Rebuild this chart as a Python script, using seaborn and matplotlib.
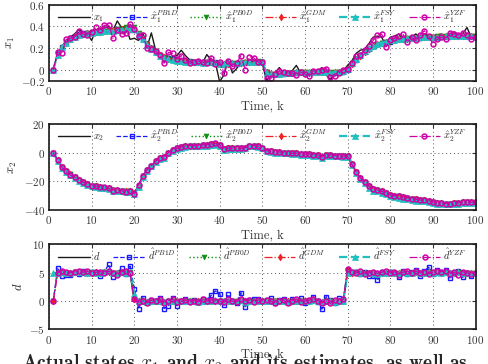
import numpy as np
import pandas as pd
import matplotlib
matplotlib.use("Agg")
import matplotlib.pyplot as plt
import seaborn as sns

k = list(range(1, 101))

# panel 1: x1 and its estimates
x1 = [0, 0.15, 0.21, 0.27, 0.30, 0.33, 0.37, 0.34, 0.33, 0.27,
      0.37, 0.38, 0.39, 0.40, 0.36, 0.45, 0.39, 0.40, 0.28, 0.29,
      0.27, 0.34, 0.21, 0.34, 0.18, 0.12, 0.13, 0.10, 0.12, 0.13,
      0.18, 0.13, 0.09, 0.07, 0.09, 0.06, 0.14, 0.09, 0.07, -0.11,
      -0.05, 0.09, -0.03, 0.01, 0.08, 0.07, 0.07, 0.06, 0.07, 0.06,
      -0.10, -0.04, -0.03, 0.02, -0.03, -0.03, -0.01, 0.04, -0.03, -0.05,
      -0.03, -0.02, -0.01, 0.02, -0.05, -0.09, -0.04, -0.02, -0.01, 0.04,
      0.08, 0.15, 0.18, 0.19, 0.24, 0.30, 0.31, 0.30, 0.22, 0.30,
      0.31, 0.33, 0.28, 0.27, 0.30, 0.33, 0.30, 0.33, 0.32, 0.27,
      0.32, 0.33, 0.30, 0.33, 0.35, 0.28, 0.33, 0.39, 0.30, 0.29]
x1_pb1d = [0, 0.15, 0.21, 0.26, 0.29, 0.31, 0.33, 0.34, 0.34, 0.34,
           0.35, 0.36, 0.36, 0.37, 0.37, 0.38, 0.38, 0.38, 0.37, 0.37,
           0.32, 0.28, 0.23, 0.20, 0.16, 0.14, 0.12, 0.11, 0.10, 0.09,
           0.09, 0.08, 0.08, 0.07, 0.07, 0.07, 0.07, 0.07, 0.07, 0.05,
           0.04, 0.05, 0.05, 0.05, 0.06, 0.06, 0.07, 0.07, 0.07, 0.07,
           -0.02, -0.04, -0.04, -0.04, -0.04, -0.03, -0.03, -0.03, -0.02, -0.03,
           -0.03, -0.02, -0.02, -0.02, -0.02, -0.03, -0.03, -0.02, -0.02, 0.00,
           0.05, 0.09, 0.13, 0.16, 0.19, 0.22, 0.24, 0.25, 0.26, 0.26,
           0.27, 0.28, 0.28, 0.28, 0.29, 0.29, 0.29, 0.30, 0.30, 0.30,
           0.30, 0.30, 0.30, 0.31, 0.31, 0.31, 0.31, 0.32, 0.31, 0.31]
x1_pb0d = [0, 0.14, 0.20, 0.25, 0.28, 0.30, 0.32, 0.33, 0.34, 0.35,
           0.35, 0.36, 0.36, 0.37, 0.37, 0.38, 0.38, 0.39, 0.39, 0.39,
           0.34, 0.29, 0.24, 0.20, 0.17, 0.14, 0.12, 0.10, 0.09, 0.08,
           0.08, 0.07, 0.07, 0.07, 0.06, 0.06, 0.07, 0.07, 0.06, 0.05,
           0.05, 0.06, 0.06, 0.06, 0.06, 0.07, 0.07, 0.08, 0.08, 0.07,
           -0.02, -0.04, -0.05, -0.04, -0.04, -0.03, -0.03, -0.03, -0.02, -0.02,
           -0.02, -0.02, -0.02, -0.01, -0.02, -0.02, -0.02, -0.02, -0.01, 0.01,
           0.06, 0.10, 0.13, 0.17, 0.19, 0.22, 0.23, 0.25, 0.26, 0.26,
           0.27, 0.28, 0.28, 0.29, 0.29, 0.29, 0.29, 0.30, 0.30, 0.30,
           0.31, 0.31, 0.31, 0.31, 0.31, 0.31, 0.31, 0.31, 0.31, 0.31]
x1_gdm = [0, 0.14, 0.21, 0.25, 0.28, 0.31, 0.32, 0.33, 0.34, 0.34,
          0.35, 0.35, 0.36, 0.37, 0.37, 0.37, 0.38, 0.38, 0.38, 0.38,
          0.33, 0.28, 0.24, 0.20, 0.16, 0.14, 0.12, 0.10, 0.09, 0.09,
          0.08, 0.08, 0.07, 0.07, 0.07, 0.06, 0.07, 0.07, 0.06, 0.05,
          0.05, 0.05, 0.06, 0.06, 0.06, 0.07, 0.07, 0.07, 0.07, 0.07,
          -0.02, -0.04, -0.04, -0.04, -0.03, -0.03, -0.03, -0.02, -0.02, -0.02,
          -0.03, -0.02, -0.02, -0.02, -0.02, -0.03, -0.02, -0.02, -0.01, 0.01,
          0.05, 0.10, 0.13, 0.16, 0.19, 0.22, 0.24, 0.25, 0.26, 0.27,
          0.27, 0.28, 0.28, 0.28, 0.29, 0.29, 0.30, 0.30, 0.30, 0.30,
          0.30, 0.31, 0.31, 0.31, 0.31, 0.31, 0.31, 0.31, 0.31, 0.30]
x1_fsy = [0, 0.14, 0.21, 0.25, 0.28, 0.30, 0.32, 0.33, 0.34, 0.34,
          0.35, 0.35, 0.36, 0.36, 0.36, 0.37, 0.37, 0.38, 0.38, 0.38,
          0.33, 0.28, 0.23, 0.19, 0.16, 0.13, 0.11, 0.10, 0.09, 0.08,
          0.08, 0.07, 0.07, 0.07, 0.07, 0.06, 0.07, 0.07, 0.06, 0.05,
          0.05, 0.06, 0.06, 0.06, 0.07, 0.07, 0.07, 0.07, 0.07, 0.07,
          -0.03, -0.04, -0.04, -0.04, -0.03, -0.03, -0.03, -0.02, -0.02, -0.02,
          -0.02, -0.02, -0.02, -0.02, -0.02, -0.03, -0.02, -0.02, -0.01, 0.01,
          0.06, 0.10, 0.14, 0.17, 0.20, 0.22, 0.24, 0.25, 0.26, 0.27,
          0.27, 0.28, 0.28, 0.29, 0.29, 0.29, 0.30, 0.30, 0.30, 0.30,
          0.30, 0.31, 0.31, 0.31, 0.31, 0.31, 0.31, 0.31, 0.31, 0.30]
x1_yzf = [0, 0.16, 0.15, 0.28, 0.29, 0.30, 0.36, 0.33, 0.32, 0.35,
          0.39, 0.37, 0.41, 0.41, 0.29, 0.37, 0.33, 0.34, 0.42, 0.38,
          0.31, 0.32, 0.20, 0.19, 0.17, 0.14, 0.06, 0.16, 0.15, 0.10,
          0.13, 0.09, 0.06, 0.07, 0.08, 0.07, 0.06, 0.11, 0.05, 0.07,
          -0.03, 0.08, 0.03, 0.06, 0.13, 0.00, 0.12, 0.11, 0.07, 0.07,
          -0.08, -0.08, -0.04, -0.01, -0.02, -0.03, -0.03, -0.05, -0.02, -0.04,
          -0.06, -0.01, -0.01, 0.00, 0.01, -0.07, -0.06, -0.03, 0.00, 0.01,
          0.06, 0.13, 0.14, 0.18, 0.22, 0.27, 0.32, 0.33, 0.21, 0.27,
          0.29, 0.31, 0.33, 0.26, 0.30, 0.27, 0.32, 0.36, 0.31, 0.24,
          0.28, 0.30, 0.28, 0.34, 0.33, 0.32, 0.34, 0.32, 0.28, 0.30]

# panel 2: x2 and its estimates
x2 = [0, -5, -10, -13, -15, -17, -19, -20.5, -22, -23,
      -23.5, -24, -24.5, -25, -26, -26, -26.5, -27, -27, -28,
      -23, -16, -12, -9, -6, -4, -3, 0, 2, 3,
      4, 4.5, 5, 5, 5, 5.5, 5.5, 6, 6, 5.5,
      2.5, 3, 3, 3, 3, 3.5, 5, 5, 4.5, 3.5,
      1.5, 1, 0.5, 0.5, 0, 0, -0.5, -0.5, -1, -1,
      -1, -1.5, -1.5, -3, -1.5, -1.5, -2, -2, -2.5, -2.5,
      -8, -13.5, -17.7, -20.5, -23.5, -25.5, -26, -27, -28, -29.5,
      -30, -30.5, -31, -31.5, -32, -32.5, -33, -33, -33.5, -34.5,
      -35, -35, -35.5, -35.5, -35, -35, -34.5, -34.5, -34.5, -34.5]
x2_pb1d = [0, -5, -10, -13, -15, -17, -19, -20.5, -22, -23,
           -23.5, -24, -24.5, -25, -26, -26, -26.5, -27, -27, -28,
           -23, -16, -12, -9, -6, -4, -3, 0, 2, 3,
           4, 4.5, 5, 5, 5, 5.5, 5.5, 6, 6, 5.5,
           2.5, 3, 3, 3, 3, 3.5, 5, 5, 4.5, 3.5,
           1.5, 1, 0.5, 0.5, 0, 0, -0.5, -0.5, -1, -1,
           -1, -1.5, -1.5, -3, -1.5, -1.5, -2, -2, -2.5, -2.5,
           -8, -13.5, -17.7, -20.5, -23.5, -25.5, -26, -27, -28, -29.5,
           -30, -30.5, -31, -31.5, -32, -32.5, -33, -33, -33.5, -34.5,
           -35, -35, -35.5, -35.5, -35, -35, -34.5, -34.5, -34.5, -34.5]
x2_pb0d = [0, -5, -10, -13, -15, -17, -19, -20.5, -22, -23,
           -23.5, -24, -24.5, -25, -26, -26.5, -26.5, -27, -27, -28,
           -23, -16, -12, -9, -6, -4, -3, 0, 2, 3,
           4, 4.5, 5, 5, 5, 5.5, 5.5, 6, 6, 5.5,
           2.5, 3, 3, 3, 3, 3.5, 5, 5, 4.5, 3.5,
           1.5, 1, 0.5, 0.5, 0, 0, -0.5, -0.5, -1, -1,
           -1, -1.5, -1.5, -3, -1.5, -1.5, -2, -2, -2.5, -2.5,
           -8, -13.5, -17.7, -20.5, -23.5, -25.5, -26, -27, -28, -29.5,
           -30, -30.5, -31, -31.5, -32, -32.5, -33, -33, -33.5, -34.5,
           -35, -35, -35.5, -35.5, -35, -35, -34.5, -34.5, -34.5, -34.5]
x2_gdm = [0, -5, -10, -13, -15, -17, -19, -20.5, -22, -23,
          -23.5, -24, -24.5, -25, -26, -26, -26.5, -27, -27, -28,
          -23, -16, -12, -9, -6, -4, -3, 0, 2, 3,
          4, 4.5, 5, 5, 5, 5.5, 5.5, 6, 6, 5.5,
          2.5, 3, 3, 3, 3, 3.5, 5, 5, 4.5, 3.5,
          1.5, 1, 0.5, 0.5, 0, 0, -0.5, -0.5, -1, -1,
          -1, -1.5, -1.5, -3, -1.5, -1.5, -2, -2, -2.5, -2.5,
          -8, -13.5, -17.7, -20.5, -23.5, -25.5, -26, -27, -28, -29.5,
          -30, -30.5, -31, -31.5, -32, -32.5, -33, -33, -33.5, -34.5,
          -35, -35, -35.5, -35.5, -35, -35, -34.5, -34.5, -34.5, -34.5]
x2_fsy = [0, -5.5, -10.5, -13.5, -15.5, -17.5, -19.5, -21, -22.5, -23.5,
          -24, -24.5, -25, -25.5, -26.5, -27, -27, -27.5, -27.5, -28.5,
          -24, -17, -12.5, -9.5, -6.5, -4.5, -3.5, -0.5, 1.5, 2.5,
          3.5, 4, 4.5, 4.5, 4.5, 5, 5, 5.5, 5.5, 5,
          2, 2.5, 2.5, 2.5, 2.5, 3, 4.5, 4.5, 4, 3,
          1, 0.5, 0, 0, -0.5, -0.5, -1, -1, -1.5, -1.5,
          -1.5, -2, -2, -3.5, -2, -2, -2.5, -2.5, -3, -3,
          -8.5, -14, -18.5, -21.5, -24.5, -26.5, -27, -28, -29, -30.5,
          -31, -31.5, -32, -32.5, -33, -33.5, -34, -34, -34.5, -35,
          -35.5, -35.5, -36, -36, -35.5, -35.5, -35, -35, -35, -35]
x2_yzf = [0, -5, -10, -13, -15.5, -17, -19, -20.5, -22, -23,
          -23.5, -24, -24, -25, -26.5, -26, -26.5, -27.5, -27, -28.5,
          -22.5, -16, -12, -9, -6, -4, -3, 0, 2, 3,
          4, 4.5, 5, 5, 5, 5.5, 5.5, 6, 6.5, 5.5,
          2.5, 3, 3, 3, 3, 3.5, 5, 5, 4.5, 3.5,
          1.5, 1, 0.5, 0.5, 0, 0, -0.5, -0.5, -1, -1,
          -1, -1.5, -1.5, -3, -1.5, -1.5, -2, -2, -2.5, -2.5,
          -8, -13.5, -17.7, -20.5, -23.5, -25.5, -26, -27, -28, -29.5,
          -30, -30.5, -31, -31.5, -32, -32.5, -33, -33, -33.5, -34.5,
          -35, -35, -35.5, -35.5, -35, -35, -34.5, -34.5, -34.5, -34.5]

# panel 3: disturbance d and its estimates
d = [5, 5, 5, 5, 5, 5, 5, 5, 5, 5,
     5, 5, 5, 5, 5, 5, 5, 5, 5, 0,
     0, 0, 0, 0, 0, 0, 0, 0, 0, 0,
     0, 0, 0, 0, 0, 0, 0, 0, 0, 0,
     0, 0, 0, 0, 0, 0, 0, 0, 0, 0,
     0, 0, 0, 0, 0, 0, 0, 0, 0, 0,
     0, 0, 0, 0, 0, 0, 0, 0, 0, 5,
     5, 5, 5, 5, 5, 5, 5, 5, 5, 5,
     5, 5, 5, 5, 5, 5, 5, 5, 5, 5,
     5, 5, 5, 5, 5, 5, 5, 5, 5, 5]
d_pb1d = [0, 5.8, 4.5, 4.7, 4.7, 5.2, 4.8, 5.3, 5.0, 5.2,
          4.9, 4.5, 5.2, 6.5, 4.2, 5.0, 5.8, 4.8, 6.2, 2.2,
          -1.3, 0.6, -0.2, 0.2, 0.0, 0.5, -1.3, -0.8, 0.5, -0.8,
          0.0, 0.3, 0.0, 0.2, 0.0, 0.3, 0.2, 1.0, 1.8, 1.3,
          -0.7, 1.2, 0.0, -0.3, 1.5, -1.0, 0.2, 0.4, 0.3, 0.0,
          0.2, 0.5, -0.3, 0.2, 0.4, -0.2, 0.3, 0.0, 0.5, -0.4,
          0.2, 0.75, -0.1, -1.4, 0.8, 0.2, -0.3, 0.5, 0.0, 5.5,
          5.0, 5.2, 4.8, 5.2, 4.4, 4.4, 3.7, 5.1, 5.0, 5.2,
          5.0, 4.3, 5.3, 4.8, 5.2, 5.5, 4.4, 5.3, 6.0, 4.8,
          5.5, 5.2, 5.5, 4.1, 5.0, 5.3, 4.2, 5.0, 4.4, 5.0]
d_pb0d = [0, 4.9, 5.1, 5.0, 5.0, 5.1, 5.0, 5.2, 5.0, 5.1,
          5.0, 5.0, 5.1, 5.2, 4.9, 5.0, 5.1, 5.0, 5.1, 0.4,
          0.0, 0.1, -0.1, 0.0, 0.1, 0.0, -0.1, 0.0, 0.1, 0.0,
          0.0, 0.1, 0.0, 0.0, -0.1, 0.1, 0.0, 0.1, 0.0, 0.1,
          0.0, 0.1, 0.0, 0.0, 0.2, 0.0, 0.1, 0.0, 0.1, 0.0,
          0.1, 0.0, 0.0, 0.1, 0.0, -0.1, 0.0, 0.1, 0.0, 0.0,
          0.1, 0.2, 0.0, -0.1, 0.1, 0.0, -0.1, 0.1, 0.0, 5.2,
          5.0, 5.1, 4.9, 5.0, 5.0, 4.9, 4.8, 5.0, 5.0, 5.1,
          5.0, 4.9, 5.1, 5.0, 5.0, 5.1, 4.9, 5.0, 5.2, 5.0,
          5.1, 5.0, 5.1, 4.9, 5.0, 5.1, 4.9, 5.0, 4.9, 5.0]
d_gdm = [0, 5.0, 5.1, 4.9, 5.0, 5.1, 5.1, 5.1, 5.0, 5.0,
         5.1, 4.9, 5.1, 5.2, 4.9, 5.0, 5.2, 5.0, 5.0, 0.3,
         0.1, 0.0, -0.1, 0.1, 0.0, 0.1, -0.1, 0.0, 0.1, 0.0,
         0.0, 0.1, 0.0, 0.1, 0.0, 0.1, 0.0, 0.1, 0.1, 0.1,
         0.0, 0.1, 0.0, 0.0, 0.2, 0.0, 0.1, 0.0, 0.1, 0.0,
         0.1, 0.1, 0.0, 0.1, 0.0, 0.0, 0.0, 0.1, 0.0, 0.0,
         0.1, 0.2, 0.0, -0.1, 0.1, 0.0, -0.1, 0.1, 0.0, 5.3,
         5.0, 5.1, 4.9, 5.0, 5.0, 5.0, 4.8, 5.0, 5.0, 5.1,
         5.0, 4.9, 5.1, 5.0, 5.0, 5.1, 4.9, 5.0, 5.1, 5.0,
         5.1, 5.0, 5.1, 4.9, 5.0, 5.1, 4.9, 5.0, 5.0, 5.0]
d_fsy = [5.0, 4.9, 5.2, 5.0, 5.0, 5.1, 5.2, 5.1, 5.0, 5.1,
         5.0, 5.0, 5.1, 5.3, 4.9, 5.0, 5.1, 5.0, 5.1, 1.2,
         0.1, 0.0, -0.1, 0.0, 0.1, 0.0, -0.2, 0.0, 0.1, 0.0,
         0.0, 0.1, 0.0, 0.0, -0.1, 0.1, 0.1, 0.1, 0.2, 0.1,
         0.0, 0.1, 0.0, 0.0, 0.2, -0.1, 0.1, 0.0, 0.1, 0.0,
         0.1, 0.0, 0.0, 0.1, 0.0, -0.1, 0.0, 0.1, 0.0, 0.0,
         0.1, 0.2, 0.0, -0.2, 0.1, 0.0, -0.1, 0.1, 0.0, 5.0,
         5.1, 5.1, 4.9, 5.0, 4.9, 4.9, 4.8, 5.0, 5.0, 5.1,
         5.0, 4.9, 5.1, 5.0, 5.0, 5.1, 4.9, 5.0, 5.2, 5.0,
         5.1, 5.0, 5.1, 4.9, 5.0, 5.1, 4.9, 5.0, 4.9, 5.0]
d_yzf = [0, 5.0, 5.4, 5.1, 5.0, 5.2, 5.3, 5.1, 5.3, 5.0,
         5.1, 5.2, 4.9, 5.3, 5.0, 4.7, 5.2, 5.3, 5.0, 0.3,
         -0.2, 0.1, -0.3, 0.2, 0.0, 0.3, -0.4, 0.1, 0.3, -0.1,
         0.0, 0.2, -0.2, 0.1, -0.1, 0.3, 0.0, 0.2, 0.1, 0.0,
         -0.2, 0.3, 0.0, -0.1, 0.4, 0.1, 0.2, -0.1, 0.2, 0.1,
         0.2, 0.0, -0.3, 0.1, 0.2, -0.4, 0.1, 0.3, -0.1, 0.0,
         0.2, 0.4, 0.1, -0.3, 0.0, -0.4, 0.2, 0.0, 0.3, 5.6,
         5.2, 4.9, 5.3, 4.8, 5.0, 5.2, 4.9, 5.1, 5.3, 5.0,
         5.2, 4.7, 5.1, 5.3, 4.9, 5.3, 5.0, 5.2, 4.8, 5.1,
         5.4, 5.2, 5.3, 4.8, 5.1, 4.7, 5.2, 5.0, 4.8, 5.0]

panels = [
    ("x_1", [x1, x1_pb1d, x1_pb0d, x1_gdm, x1_fsy, x1_yzf]),
    ("x_2", [x2, x2_pb1d, x2_pb0d, x2_gdm, x2_fsy, x2_yzf]),
    ("d", [d, d_pb1d, d_pb0d, d_gdm, d_fsy, d_yzf]),
]
methods = ["PB1D", "PB0D", "GDM", "FSY", "YZF"]

styles = [
    dict(color="k", linestyle="-", linewidth=1.0),
    dict(color="#1a1aff", linestyle="--", linewidth=0.9, marker="s", markersize=3,
         markerfacecolor="none", markeredgecolor="#1a1aff", markeredgewidth=1.0),
    dict(color="#109010", linestyle=":", linewidth=1.0, marker="v", markersize=3.5,
         markerfacecolor="#109010", markeredgecolor="#109010", markeredgewidth=0.5),
    dict(color="#ee2020", linestyle="-.", linewidth=0.9, marker="d", markersize=3.5,
         markerfacecolor="#ee2020", markeredgecolor="#ee2020", markeredgewidth=0.5),
    dict(color="#20c0c0", linestyle="--", linewidth=1.6, marker="^", markersize=4,
         markerfacecolor="#20c0c0", markeredgecolor="#20c0c0", markeredgewidth=0.5),
    dict(color="#d000a8", linestyle="-.", linewidth=0.9, marker="o", markersize=3.5,
         markerfacecolor="none", markeredgecolor="#d000a8", markeredgewidth=1.1),
]

sns.set_theme(style="white")
plt.rcParams["font.family"] = ["cmr10", "DejaVu Serif"]
plt.rcParams["mathtext.fontset"] = "cm"
plt.rcParams["axes.formatter.use_mathtext"] = True
plt.rcParams["axes.unicode_minus"] = False

fig = plt.figure(figsize=(4.89, 3.64), dpi=100)
boxes = [(0.1002, 0.7775, 0.8722, 0.2096),
         (0.1002, 0.4231, 0.8722, 0.2362),
         (0.1002, 0.0948, 0.8722, 0.2335)]
ylims = [(-0.104, 0.6), (-40, 20), (-5, 10)]
yticks = [([-0.104, 0, 0.2, 0.4, 0.6], ["$-0.2$", "$0$", "$0.2$", "$0.4$", "$0.6$"]),
          ([-40, -20, 0, 20], ["$-40$", "$-20$", "$0$", "$20$"]),
          ([-5, 0, 5, 10], ["$-5$", "$0$", "$5$", "$10$"])]

for (sym, series), box, yl, yt in zip(panels, boxes, ylims, yticks):
    ax = fig.add_axes(box)
    if sym == "d":
        labels = ["$d$"] + ["$\\hat{d}^{%s}$" % m for m in methods]
    else:
        labels = ["$%s$" % sym] + ["$\\hat{x}_{%s}^{%s}$" % (sym[-1], m) for m in methods]
    for vals, st, lab in zip(series, styles, labels):
        sns.lineplot(x=k, y=vals, ax=ax, label=lab, **st)
    ax.set_xlim(0, 100)
    ax.set_ylim(*yl)
    ax.set_xticks(range(0, 101, 10))
    ax.set_xticklabels(["$%d$" % t for t in range(0, 101, 10)])
    ax.set_yticks(yt[0])
    ax.set_yticklabels(yt[1])
    ax.grid(True, linestyle=(0, (1, 3)), color="#555555", linewidth=0.7)
    ax.tick_params(direction="in", top=True, right=True, length=3, width=0.8,
                   labelsize=8, pad=3, colors="#333333")
    for s in ax.spines.values():
        s.set_linewidth(1.2)
        s.set_color("k")
    ax.set_xlabel("Time, k", fontsize=9, labelpad=2, color="#333333")
    ax.set_ylabel("$%s$" % sym, fontsize=9, labelpad=3)
    ax.legend(loc="upper left", bbox_to_anchor=(0.01, 1.03, 0.98, 0.0), mode="expand",
              ncol=6, frameon=False, fontsize=7.5, handlelength=3.0,
              handletextpad=0.3, columnspacing=0.4, borderaxespad=0.1)

fig.text(22 / 489, 1 - 352 / 364, "Actual states $x_1$ and $x_2$ and its estimates, as well as",
         fontsize=14, va="top", ha="left", family=["cmb10", "DejaVu Serif"])

fig.savefig("out.png", dpi=100)
